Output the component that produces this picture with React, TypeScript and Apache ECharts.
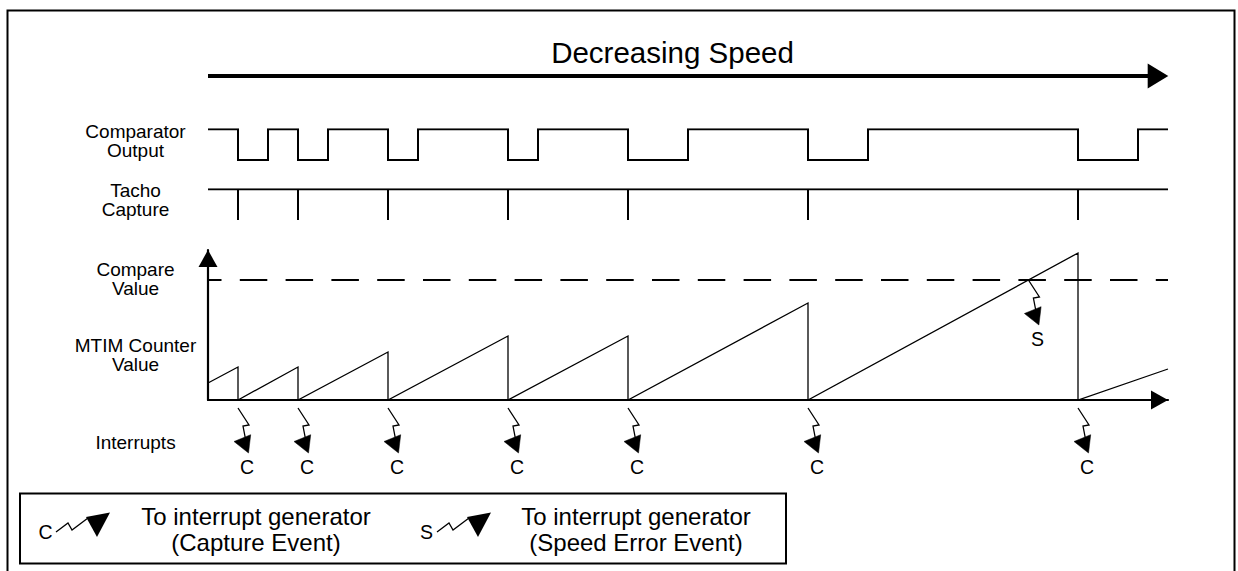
import React, { useEffect, useRef } from 'react';
import * as echarts from 'echarts';

// ---------- data (time unit = one slot, counter in counts) ----------
const T_MAX = 32;
const captureTimes = [1, 3, 6, 10, 14, 20, 29];
const comparatorHighTimes = [2, 4, 7, 11, 16, 22, 31];
const counterStart = 17;
const counterPeaks = [33, 33, 48, 64, 64, 97, 147];
const counterEnd = 31;
const compareValue = 120;
const counterAxisMax = 150;

const titleText = 'Decreasing Speed';
const rowLabels = [
  { text: 'Comparator\nOutput', y: 140.5 },
  { text: 'Tacho\nCapture', y: 200 },
  { text: 'Compare\nValue', y: 278.5 },
  { text: 'MTIM Counter\nValue', y: 355 },
  { text: 'Interrupts', y: 442 },
];
const legendItems = [
  { letter: 'C', text: 'To interrupt generator\n(Capture Event)' },
  { letter: 'S', text: 'To interrupt generator\n(Speed Error Event)' },
];

const FONT = "'Liberation Sans', Arial, Helvetica, sans-serif";

// ---------- derived series ----------
const comparatorData: number[][] = [[0, 1]];
captureTimes.forEach((t, i) => {
  comparatorData.push([t, 1], [t, 0], [comparatorHighTimes[i], 0], [comparatorHighTimes[i], 1]);
});
comparatorData.push([T_MAX, 1]);

const counterData: number[][] = [[0, counterStart]];
captureTimes.forEach((t, i) => {
  counterData.push([t, counterPeaks[i]], [t, 0]);
});
counterData.push([T_MAX, counterEnd]);

// speed error: where the last full ramp crosses the compare value
const lastIdx = captureTimes.length - 1;
const rampStart = captureTimes[lastIdx - 1];
const rampEnd = captureTimes[lastIdx];
const speedErrorTime = rampStart + (compareValue / counterPeaks[lastIdx]) * (rampEnd - rampStart);

function bolt(letter: string, dy: number) {
  return [
    {
      type: 'polyline',
      shape: { points: [[0, dy], [11, dy + 17], [5, dy + 18], [7.5, dy + 31]] },
      style: { stroke: '#000', lineWidth: 1.3, fill: 'none' },
    },
    {
      type: 'polygon',
      shape: { points: [[-4, dy + 33.5], [12.7, dy + 26.7], [10.5, dy + 45]] },
      style: { fill: '#000', stroke: '#000', lineWidth: 0.5 },
    },
    {
      type: 'text',
      x: 9,
      y: dy + 59,
      style: {
        text: letter, fontSize: 19.5, fontFamily: FONT, fill: '#000',
        align: 'center', verticalAlign: 'middle', textAlign: 'center', textVerticalAlign: 'middle',
      },
    },
  ];
}

function legendIcon(dx: number) {
  return [
    {
      type: 'polyline',
      shape: { points: [[56 + dx, 532], [68 + dx, 523], [72 + dx, 530], [88 + dx, 518]] },
      style: { stroke: '#000', lineWidth: 1.3, fill: 'none' },
    },
    {
      type: 'polygon',
      shape: { points: [[86 + dx, 517], [110 + dx, 512.5], [97 + dx, 537]] },
      style: { fill: '#000' },
    },
  ];
}

function txt(text: string, x: number, y: number, size: number, lh?: number) {
  return {
    type: 'text', x, y,
    style: {
      text, fontSize: size, fontFamily: FONT, fill: '#000',
      align: 'center', verticalAlign: 'middle', textAlign: 'center', textVerticalAlign: 'middle',
      lineHeight: lh ?? size,
    },
  };
}

export default function App() {
  const ref = useRef<HTMLDivElement>(null);
  useEffect(() => {
    const chart = echarts.init(ref.current!, null, { renderer: 'svg' });
    const hiddenX = (gi: number) => ({ type: 'value', gridIndex: gi, min: 0, max: T_MAX, show: false });
    const graphic: any[] = [
      { type: 'rect', shape: { x: 7.5, y: 10.5, width: 1227, height: 620 }, style: { stroke: '#000', lineWidth: 2, fill: 'none' } },
      { type: 'rect', shape: { x: 20, y: 493.5, width: 766, height: 70 }, style: { stroke: '#000', lineWidth: 2, fill: 'none' } },
      txt(titleText, 672.5, 52.5, 29.5),
      { type: 'line', shape: { x1: 208, y1: 76, x2: 1150, y2: 76 }, style: { stroke: '#000', lineWidth: 4 } },
      { type: 'polygon', shape: { points: [[1147.7, 63.5], [1168.3, 76], [1147.7, 88.5]] }, style: { fill: '#000' } },
      ...rowLabels.map((l) => txt(l.text, 135.5, l.y, 19, 19)),
      txt(legendItems[0].letter, 45.5, 531.5, 19.5),
      ...legendIcon(0),
      txt(legendItems[0].text, 256, 529, 24, 26),
      txt(legendItems[1].letter, 426.5, 531.5, 19.5),
      ...legendIcon(381),
      txt(legendItems[1].text, 636, 529, 24, 26),
    ];

    const option: any = {
      animation: false,
      backgroundColor: '#fff',
      grid: [
        { left: 208, width: 960, top: 129.3, height: 30.7 },
        { left: 208, width: 960, top: 189.3, height: 30.7 },
        { left: 208, width: 960, top: 250, height: 150 },
      ],
      xAxis: [
        hiddenX(0),
        hiddenX(1),
        {
          type: 'value', gridIndex: 2, min: 0, max: T_MAX,
          axisLine: { show: true, symbol: ['none', 'triangle'], symbolSize: [19, 17], symbolOffset: [0, -8.5], lineStyle: { color: '#000', width: 2.2 } },
          axisTick: { show: false }, axisLabel: { show: false }, splitLine: { show: false },
        },
      ],
      yAxis: [
        { type: 'value', gridIndex: 0, min: 0, max: 1, show: false },
        { type: 'value', gridIndex: 1, min: 0, max: 1, show: false },
        {
          type: 'value', gridIndex: 2, min: 0, max: counterAxisMax,
          axisLine: { show: true, symbol: ['none', 'triangle'], symbolSize: [19, 17], symbolOffset: [0, -8.5], lineStyle: { color: '#000', width: 2.2 } },
          axisTick: { show: false }, axisLabel: { show: false }, splitLine: { show: false },
        },
      ],
      series: [
        {
          type: 'line', xAxisIndex: 0, yAxisIndex: 0, data: comparatorData, symbol: 'none', silent: true,
          lineStyle: { color: '#000', width: 2, join: 'miter' },
        },
        {
          type: 'line', xAxisIndex: 1, yAxisIndex: 1, data: [[0, 1], [T_MAX, 1]], symbol: 'none', silent: true,
          lineStyle: { color: '#000', width: 2 },
        },
        {
          type: 'custom', xAxisIndex: 1, yAxisIndex: 1, data: captureTimes.map((t) => [t]), silent: true, clip: false,
          renderItem: (params: any, api: any) => {
            const t = api.value(0);
            const a = api.coord([t, 1]);
            const b = api.coord([t, 0]);
            return { type: 'line', shape: { x1: a[0], y1: a[1], x2: b[0], y2: b[1] }, style: { stroke: '#000', lineWidth: 2 } };
          },
        },
        {
          type: 'line', xAxisIndex: 2, yAxisIndex: 2, data: [[0, compareValue], [T_MAX, compareValue]], symbol: 'none', silent: true,
          lineStyle: { color: '#000', width: 2, type: [27.5, 18.3], dashOffset: 13.8 },
        },
        {
          type: 'line', xAxisIndex: 2, yAxisIndex: 2, data: counterData, symbol: 'none', silent: true,
          lineStyle: { color: '#000', width: 1.3, join: 'miter' },
        },
        {
          type: 'custom', xAxisIndex: 2, yAxisIndex: 2, data: captureTimes.map((t) => [t, 0]), silent: true, clip: false,
          renderItem: (params: any, api: any) => {
            const p = api.coord([api.value(0), api.value(1)]);
            return { type: 'group', x: p[0], y: p[1], children: bolt('C', 8) };
          },
        },
        {
          type: 'custom', xAxisIndex: 2, yAxisIndex: 2, data: [[speedErrorTime, compareValue]], silent: true, clip: false,
          renderItem: (params: any, api: any) => {
            const p = api.coord([api.value(0), api.value(1)]);
            return { type: 'group', x: p[0], y: p[1], children: bolt('S', 0) };
          },
        },
      ],
      graphic,
    };
    chart.setOption(option);
    return () => chart.dispose();
  }, []);
  return (
    <div
      ref={ref}
      style={{ position: 'fixed', left: 0, top: 0, width: 1238, height: 571, background: '#fff' }}
    />
  );
}
